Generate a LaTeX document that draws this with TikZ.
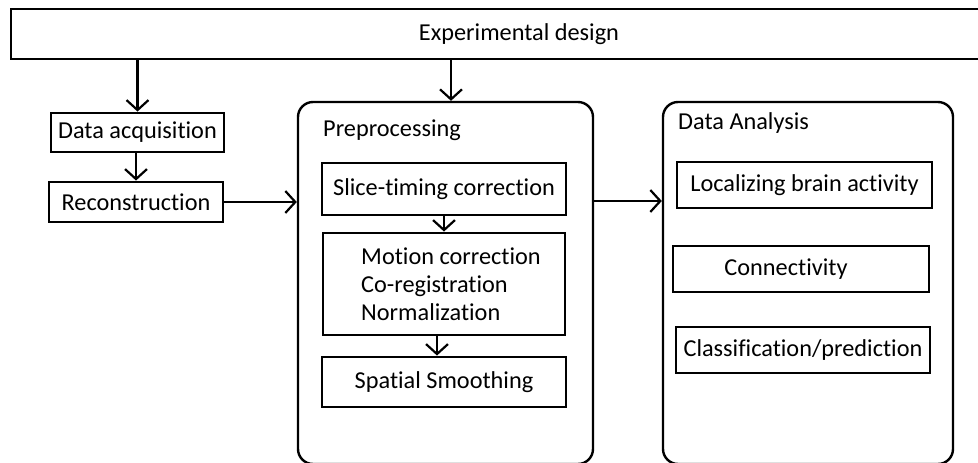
\documentclass[tikz,border=0pt]{standalone}
\usepackage{fontspec}
\setmainfont{Carlito}[Ligatures={NoCommon}]
\usetikzlibrary{arrows.meta}
\begin{document}
\begin{tikzpicture}[x=1pt,y=-1pt,
  font=\fontsize{24.3}{28}\selectfont,
  sqbox/.style={draw, line width=2.9pt, rectangle, inner sep=0pt},
  rbox/.style={draw, line width=2.4pt, rounded corners=15pt, inner sep=0pt},
  arr/.style={line width=2.2pt, -{Straight Barb[length=10pt,width=22pt,line width=2.2pt]}},
  lbl/.style={inner sep=0pt, anchor=west}
]
\useasboundingbox (0,0) rectangle (978,463);
\clip (0,0) rectangle (978,463);
% top box
\node[sqbox, minimum width=1016pt, minimum height=50pt] (exp) at (519,34) {Experimental design};
% left chain
\node[sqbox, minimum width=173pt, minimum height=39pt] (daq) at (137.5,132.5) {Data acquisition};
\node[sqbox, minimum width=174pt, minimum height=40pt] (rec) at (136,202) {Reconstruction};
% preprocessing container
\node[rbox, minimum width=295pt, minimum height=362pt] (pre) at (445.5,283) {};
\node[lbl] (prel) at (323,130) {Preprocessing};
\node[sqbox, minimum width=244pt, minimum height=52pt] (slice) at (444,189) {Slice-timing correction};
\node[sqbox, minimum width=242pt, minimum height=102pt, align=left] (mot) at (444,284) {\hspace*{14pt}Motion correction\\\hspace*{14pt}Co-registration\\\hspace*{14pt}Normalization};
\node[sqbox, minimum width=244pt, minimum height=50pt] (sps) at (444,382) {Spatial Smoothing};
% data analysis container
\node[rbox, minimum width=290pt, minimum height=362pt] (da) at (808,283) {};
\node[lbl] (dal) at (678,123) {Data Analysis};
\node[sqbox, minimum width=255pt, minimum height=46pt] (loc) at (804.5,185) {Localizing brain activity};
\node[sqbox, minimum width=256pt, minimum height=46pt] (con) at (801,269) {Connectivity\hspace*{30pt}};
\node[sqbox, minimum width=254pt, minimum height=46pt] (cls) at (803,350) {Classification/prediction};
% arrows
\draw[arr] (exp.south -| daq.north) -- (daq.north);
\draw[arr] ([xshift=5.5pt]exp.south -| pre.north) -- ([xshift=5.5pt]pre.north);
\draw[arr] (daq.south -| rec.north) -- (rec.north);
\draw[arr] (rec.east) -- (rec.east -| pre.west);
\draw[arr] (slice.south) -- (slice.south |- mot.north);
\draw[arr] ([xshift=-7pt]mot.south) -- ([xshift=-7pt]mot.south |- sps.north);
\draw[arr] ([yshift=82pt]pre.east) -- ([yshift=82pt]pre.east -| da.west);
\end{tikzpicture}
\end{document}
